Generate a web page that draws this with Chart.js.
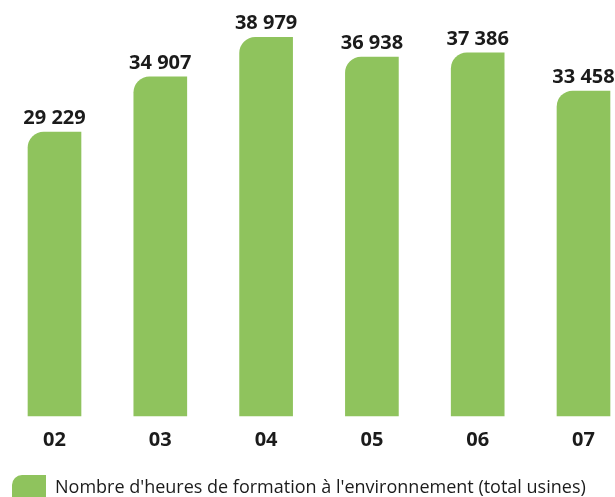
<!DOCTYPE html>
<html>
<head>
<meta charset="utf-8">
<script src="https://cdn.jsdelivr.net/npm/chart.js@4/dist/chart.umd.min.js"></script>
<style>
  html, body { margin: 0; padding: 0; background: #fff; }
  #wrap { width: 615px; height: 497px; }
</style>
</head>
<body>
<div id="wrap"><canvas id="myChart"></canvas></div>
<script>
const years = ['02', '03', '04', '05', '06', '07'];
const hours = [29229, 34907, 38979, 36938, 37386, 33458];
const seriesLabel = "Nombre d'heures de formation à l'environnement (total usines)";

const green = '#8fc35d';
const ink = '#1b1b1b';

function spaced(v) {
    return String(v).replace(/\B(?=(\d{3})+(?!\d))/g, ' ');
}

// value on top of each bar
const valueLabels = {
    id: 'valueLabels',
    afterDatasetsDraw(chart) {
        const ctx = chart.ctx;
        const meta = chart.getDatasetMeta(0);
        ctx.save();
        ctx.font = 'bold 20px "Open Sans"';
        ctx.fillStyle = ink;
        ctx.textAlign = 'center';
        ctx.textBaseline = 'alphabetic';
        meta.data.forEach((bar, i) => {
            ctx.fillText(spaced(hours[i]), bar.x, bar.y - 8);
        });
        ctx.restore();
    }
};

// empty side axes only reserve room around the bars
const spacer = (w, pos) => ({
    position: pos,
    grid: { display: false, drawTicks: false },
    border: { display: false },
    ticks: { display: false },
    afterFit(scale) { scale.width = w; }
});

const ctx = document.getElementById('myChart');
const myChart = new Chart(ctx, {
    type: 'bar',
    data: {
        labels: years,
        datasets: [{
            label: seriesLabel,
            data: hours,
            backgroundColor: green,
            borderWidth: 0,
            borderRadius: { topLeft: 16, topRight: 0, bottomLeft: 0, bottomRight: 0 },
            borderSkipped: false,
            barThickness: 53,
            clip: false
        }]
    },
    options: {
        responsive: true,
        maintainAspectRatio: false,
        animation: false,
        layout: {
            padding: { top: 8, left: 10, right: 0, bottom: -13 }
        },
        scales: {
            x: {
                offset: false,
                grid: { display: false, drawTicks: false },
                border: { display: false },
                ticks: {
                    color: ink,
                    font: { family: '"Open Sans"', size: 20, weight: 'bold' },
                    padding: 12
                },
                afterFit(scale) { scale.height = 57; }
            },
            y: Object.assign(spacer(44.5, 'left'), { min: 0, max: 42000 }),
            yRight: spacer(31.5, 'right')
        },
        plugins: {
            tooltip: { enabled: false },
            legend: {
                position: 'bottom',
                align: 'start',
                labels: {
                    color: ink,
                    font: { family: '"Open Sans"', size: 18 },
                    boxWidth: 34,
                    boxHeight: 25,
                    padding: 2,
                    useBorderRadius: true,
                    borderRadius: { topLeft: 10, topRight: 0, bottomLeft: 0, bottomRight: 0 }
                }
            }
        }
    },
    plugins: [valueLabels]
});
</script>
</body>
</html>
